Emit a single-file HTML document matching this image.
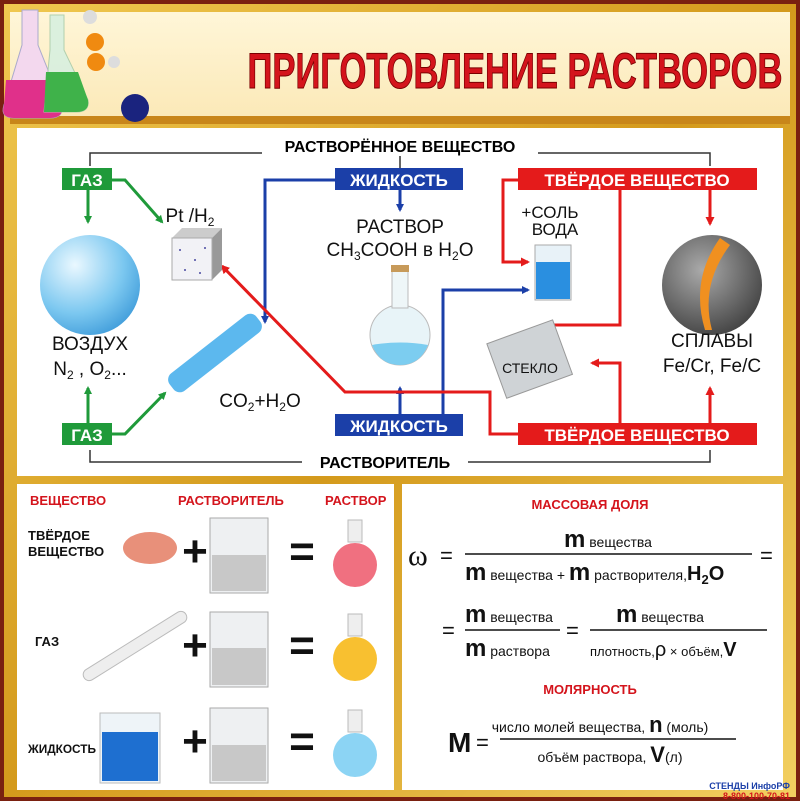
<!DOCTYPE html>
<html><head><meta charset="utf-8"><style>
body{margin:0;width:800px;height:801px;overflow:hidden;background:#7a2010;font-family:"Liberation Sans",sans-serif}
svg{display:block}
</style></head><body>
<svg width="800" height="801" viewBox="0 0 800 801" xmlns="http://www.w3.org/2000/svg" font-family="Liberation Sans, sans-serif">
<defs>
<linearGradient id="gold" x1="0" y1="0" x2="1" y2="1"><stop offset="0" stop-color="#f0c850"/><stop offset="0.5" stop-color="#d49a1c"/><stop offset="1" stop-color="#f2cf60"/></linearGradient>
<linearGradient id="cream" x1="0" y1="0" x2="0" y2="1"><stop offset="0" stop-color="#fff6d8"/><stop offset="1" stop-color="#fbe9b8"/></linearGradient>
<radialGradient id="sph" cx="0.35" cy="0.3" r="0.8"><stop offset="0" stop-color="#eaf8ff"/><stop offset="0.6" stop-color="#7cc8f0"/><stop offset="1" stop-color="#3a98d8"/></radialGradient>
<radialGradient id="dark" cx="0.4" cy="0.35" r="0.8"><stop offset="0" stop-color="#aaa"/><stop offset="1" stop-color="#333"/></radialGradient>
<marker id="ag" markerWidth="8" markerHeight="8" refX="6" refY="4" orient="auto" markerUnits="userSpaceOnUse"><path d="M0,0 L8,4 L0,8z" fill="#1f9a3a"/></marker>
<marker id="ab" markerWidth="8" markerHeight="8" refX="6" refY="4" orient="auto" markerUnits="userSpaceOnUse"><path d="M0,0 L8,4 L0,8z" fill="#1b3fa8"/></marker>
<marker id="ar" markerWidth="9" markerHeight="9" refX="7" refY="4.5" orient="auto" markerUnits="userSpaceOnUse"><path d="M0,0 L9,4.5 L0,9z" fill="#e41b1b"/></marker>
</defs>
<rect x="4" y="4" width="792" height="793" fill="url(#gold)"/>
<rect x="10" y="12" width="780" height="104" fill="url(#cream)"/>
<rect x="10" y="116" width="780" height="8" fill="#c8861a"/>
<path d="M22,10 L38,10 L38,45 L62,105 Q64,118 50,118 L14,118 Q0,118 4,105 L22,45z" fill="#f3d8ee" stroke="#aac" />
<path d="M6,80 L58,80 L62,105 Q64,118 50,118 L14,118 Q0,118 4,105z" fill="#e0308a"/>
<path d="M50,15 L64,15 L64,50 L88,100 Q90,112 76,112 L44,112 L50,50z" fill="#d8f0e0" stroke="#aca" opacity="0.9"/>
<path d="M46,72 L78,72 L88,100 Q90,112 76,112 L44,112z" fill="#3fb24a"/>
<circle cx="95" cy="42" r="9" fill="#f08a10"/><circle cx="96" cy="62" r="9" fill="#f08a10"/><circle cx="90" cy="17" r="7" fill="#ddd"/><circle cx="114" cy="62" r="6" fill="#ddd"/><circle cx="135" cy="108" r="14" fill="#1a237e"/>
<text x="515" y="88" text-anchor="middle" font-size="50" font-weight="bold" fill="#d4141c" stroke="#7a0000" stroke-width="1" textLength="535" lengthAdjust="spacingAndGlyphs">ПРИГОТОВЛЕНИЕ РАСТВОРОВ</text>
<rect x="17" y="128" width="766" height="348" fill="#fff"/>
<rect x="17" y="484" width="377" height="306" fill="#fff"/>
<rect x="402" y="484" width="381" height="306" fill="#fff"/>
<g stroke="#333" stroke-width="1.5" fill="none">
<path d="M90,166 V153 H262 M538,153 H710 V166 M400,156 V168"/>
<path d="M90,450 V462 H302 M468,462 H710 V450"/>
</g>
<text x="400" y="152" text-anchor="middle" font-size="16" font-weight="bold">РАСТВОРЁННОЕ ВЕЩЕСТВО</text>
<text x="385" y="468" text-anchor="middle" font-size="16" font-weight="bold">РАСТВОРИТЕЛЬ</text>
<g fill="none" stroke-width="3">
<path d="M88,190 V222" stroke="#1f9a3a" marker-end="url(#ag)"/>
<path d="M112,180 H125 L162,222" stroke="#1f9a3a" marker-end="url(#ag)"/>
<path d="M88,423 V388" stroke="#1f9a3a" marker-end="url(#ag)"/>
<path d="M112,434 H125 L165,393" stroke="#1f9a3a" marker-end="url(#ag)"/>
<path d="M335,180 H265 V322" stroke="#1b3fa8" marker-end="url(#ab)"/>
<path d="M400,190 V210" stroke="#1b3fa8" marker-end="url(#ab)"/>
<path d="M400,414 V388" stroke="#1b3fa8" marker-end="url(#ab)"/>
<path d="M443,414 V290 H528" stroke="#1b3fa8" marker-end="url(#ab)"/>
<path d="M518,180 H503 V262 H528" stroke="#e41b1b" marker-end="url(#ar)"/>
<path d="M620,180 V325 H548" stroke="#e41b1b"/>
<path d="M710,190 V224" stroke="#e41b1b" marker-end="url(#ar)"/>
<path d="M518,434 H490 V392 H345 L222,266" stroke="#e41b1b" marker-end="url(#ar)"/>
<path d="M620,423 V363 H592" stroke="#e41b1b" marker-end="url(#ar)"/>
<path d="M710,423 V388" stroke="#e41b1b" marker-end="url(#ar)"/>
</g>
<g font-weight="bold" font-size="17" fill="#fff" text-anchor="middle">
<rect x="62" y="168" width="50" height="22" fill="#1f9a3a"/><text x="87" y="186">ГАЗ</text>
<rect x="62" y="423" width="50" height="22" fill="#1f9a3a"/><text x="87" y="441">ГАЗ</text>
<rect x="335" y="168" width="128" height="22" fill="#1b3fa8"/><text x="399" y="186">ЖИДКОСТЬ</text>
<rect x="335" y="414" width="128" height="22" fill="#1b3fa8"/><text x="399" y="432">ЖИДКОСТЬ</text>
<rect x="518" y="168" width="239" height="22" fill="#e41b1b"/><text x="637" y="186">ТВЁРДОЕ  ВЕЩЕСТВО</text>
<rect x="518" y="423" width="239" height="22" fill="#e41b1b"/><text x="637" y="441">ТВЁРДОЕ  ВЕЩЕСТВО</text>
</g>
<circle cx="90" cy="285" r="50" fill="url(#sph)"/>
<path d="M172,238 L182,228 L222,228 L212,238z" fill="#ccc"/><path d="M212,238 L222,228 L222,270 L212,280z" fill="#999"/><rect x="172" y="238" width="40" height="42" fill="#f2f2f6" stroke="#aaa"/>
<g fill="#4a4aa0"><circle cx="180" cy="250" r="1"/><circle cx="195" cy="260" r="1"/><circle cx="205" cy="248" r="1"/><circle cx="185" cy="270" r="1"/><circle cx="200" cy="273" r="1"/></g>
<rect x="160" y="342" width="110" height="22" rx="8" fill="#5cb8ee" transform="rotate(-38 215 353)"/>
<circle cx="400" cy="335" r="30" fill="#e8f4f8" stroke="#bbb"/><path d="M372,345 Q400,340 428,345 Q420,365 400,365 Q380,365 372,345z" fill="#7ccdf0"/><rect x="392" y="270" width="16" height="38" fill="#eef6f8" stroke="#bbb"/><rect x="391" y="265" width="18" height="7" fill="#c79a5a"/>
<rect x="535" y="245" width="36" height="55" fill="#e8f2f8" stroke="#aaa"/><rect x="536" y="262" width="34" height="37" fill="#2a8fe0"/>
<rect x="495" y="330" width="70" height="58" fill="#cfd3d6" stroke="#999" transform="rotate(-20 530 360)"/>
<circle cx="712" cy="285" r="50" fill="url(#dark)"/><path d="M720,238 Q690,280 705,330 L712,330 Q700,285 730,245z" fill="#f09020"/>
<g font-size="19" text-anchor="middle" fill="#111">
<text x="190" y="222">Pt /H<tspan font-size="12" dy="4">2</tspan></text>
<text x="400" y="233">РАСТВОР</text>
<text x="400" y="256">CH<tspan font-size="12" dy="4">3</tspan><tspan dy="-4">COOH в H</tspan><tspan font-size="12" dy="4">2</tspan><tspan dy="-4">O</tspan></text>
<text x="550" y="218" font-size="17">+СОЛЬ</text><text x="555" y="235" font-size="17">ВОДА</text>
<text x="90" y="350">ВОЗДУХ</text>
<text x="90" y="375">N<tspan font-size="12" dy="4">2</tspan><tspan dy="-4"> , O</tspan><tspan font-size="12" dy="4">2</tspan><tspan dy="-4">...</tspan></text>
<text x="260" y="407">CO<tspan font-size="12" dy="4">2</tspan><tspan dy="-4">+H</tspan><tspan font-size="12" dy="4">2</tspan><tspan dy="-4">O</tspan></text>
<text x="530" y="373" font-size="14">СТЕКЛО</text>
<text x="712" y="347">СПЛАВЫ</text>
<text x="712" y="372">Fe/Cr, Fe/C</text>
</g>
<g font-weight="bold" font-size="13" fill="#d4141c">
<text x="30" y="505">ВЕЩЕСТВО</text><text x="178" y="505">РАСТВОРИТЕЛЬ</text><text x="325" y="505">РАСТВОР</text></g>
<g font-weight="bold" font-size="13" fill="#111">
<text x="28" y="540">ТВЁРДОЕ</text><text x="28" y="556">ВЕЩЕСТВО</text><text x="35" y="646">ГАЗ</text><text x="28" y="753" font-size="12" textLength="68" lengthAdjust="spacingAndGlyphs">ЖИДКОСТЬ</text></g>
<ellipse cx="150" cy="548" rx="27" ry="16" fill="#e8907a"/>
<rect x="75" y="640" width="120" height="12" rx="6" fill="#eee" stroke="#bbb" transform="rotate(-32 135 646)"/>
<rect x="100" y="713" width="60" height="70" fill="#eef4f8" stroke="#bbb"/><rect x="102" y="732" width="56" height="49" fill="#1e6fd0"/>
<g fill="#eef0f2" stroke="#aaa"><rect x="210" y="518" width="58" height="75"/><rect x="210" y="612" width="58" height="75"/><rect x="210" y="708" width="58" height="75"/></g>
<g fill="#c8c8c8"><rect x="212" y="555" width="54" height="36"/><rect x="212" y="648" width="54" height="37"/><rect x="212" y="745" width="54" height="36"/></g>
<g font-size="44" font-weight="bold" text-anchor="middle" fill="#111"><text x="195" y="566">+</text><text x="195" y="660">+</text><text x="195" y="756">+</text>
<text x="302" y="566">=</text><text x="302" y="660">=</text><text x="302" y="756">=</text></g>
<g><rect x="348" y="520" width="14" height="22" fill="#eee" stroke="#bbb"/><circle cx="355" cy="565" r="22" fill="#f07080"/>
<rect x="348" y="614" width="14" height="22" fill="#eee" stroke="#bbb"/><circle cx="355" cy="659" r="22" fill="#f8c030"/>
<rect x="348" y="710" width="14" height="22" fill="#eee" stroke="#bbb"/><circle cx="355" cy="755" r="22" fill="#8cd4f4"/></g>
<g fill="#111">
<text x="590" y="509" text-anchor="middle" font-size="13" font-weight="bold" fill="#d4141c">МАССОВАЯ ДОЛЯ</text>
<text x="408" y="565" font-size="30" font-family="Liberation Serif">ω</text><text x="440" y="563" font-size="22">=</text>
<text x="608" y="547" text-anchor="middle"><tspan font-size="24" font-weight="bold">m</tspan><tspan font-size="14"> вещества</tspan></text>
<line x1="465" y1="554" x2="752" y2="554" stroke="#111" stroke-width="1.5"/>
<text x="465" y="580"><tspan font-size="24" font-weight="bold">m</tspan><tspan font-size="14"> вещества + </tspan><tspan font-size="24" font-weight="bold">m</tspan><tspan font-size="14"> растворителя,</tspan><tspan font-size="20" font-weight="bold">H</tspan><tspan font-size="13" font-weight="bold" dy="4">2</tspan><tspan font-size="20" font-weight="bold" dy="-4">O</tspan></text>
<text x="760" y="563" font-size="22">=</text>
<text x="442" y="638" font-size="22">=</text>
<text x="465" y="622"><tspan font-size="24" font-weight="bold">m</tspan><tspan font-size="14"> вещества</tspan></text>
<line x1="465" y1="630" x2="560" y2="630" stroke="#111" stroke-width="1.5"/>
<text x="465" y="656"><tspan font-size="24" font-weight="bold">m</tspan><tspan font-size="14"> раствора</tspan></text>
<text x="566" y="638" font-size="22">=</text>
<text x="660" y="622" text-anchor="middle"><tspan font-size="24" font-weight="bold">m</tspan><tspan font-size="14"> вещества</tspan></text>
<line x1="590" y1="630" x2="767" y2="630" stroke="#111" stroke-width="1.5"/>
<text x="590" y="656" font-size="13">плотность,<tspan font-size="20">ρ</tspan> × объём,<tspan font-size="20" font-weight="bold">V</tspan></text>
<text x="590" y="694" text-anchor="middle" font-size="13" font-weight="bold" fill="#d4141c">МОЛЯРНОСТЬ</text>
<text x="448" y="752" font-size="28" font-weight="bold">M</text><text x="476" y="750" font-size="22">=</text>
<text x="600" y="732" text-anchor="middle" font-size="14">число молей вещества, <tspan font-size="22" font-weight="bold">n</tspan> (моль)</text>
<line x1="500" y1="739" x2="736" y2="739" stroke="#111" stroke-width="1.5"/>
<text x="610" y="762" text-anchor="middle" font-size="14">объём раствора, <tspan font-size="22" font-weight="bold">V</tspan>(л)</text>
<text x="790" y="789" text-anchor="end" font-size="9" font-weight="bold" fill="#1b3fa8">СТЕНДЫ ИнфоРФ</text>
<text x="790" y="799" text-anchor="end" font-size="9" font-weight="bold" fill="#d4141c">8-800-100-70-81</text>
</g>
</svg>
</body></html>
